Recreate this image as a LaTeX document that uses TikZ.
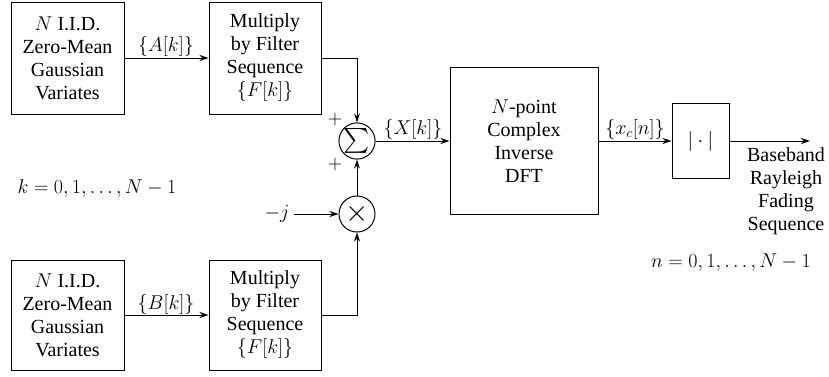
\RequirePackage{fix-cm}
\documentclass[tikz,border=0pt]{standalone}
\usepackage{exscale}
\usepackage[no-math]{fontspec}
\setmainfont{Liberation Serif}
\usetikzlibrary{arrows.meta}
\begin{document}
\begin{tikzpicture}[x=1pt,y=-1pt,
  every node/.style={font=\fontsize{20}{23}\selectfont},
  blk/.style={draw,line width=1pt,rectangle,inner sep=0pt,align=center},
  junc/.style={draw,line width=1pt,circle,minimum size=36pt,inner sep=0pt},
  lbl/.style={inner sep=0pt,align=center},
  arr/.style={line width=1pt,-{Stealth[length=9pt,width=6pt]}},
  ln/.style={line width=1pt}]
\useasboundingbox (0,0) rectangle (829,376);
% boxes
\node[blk,minimum width=113pt,minimum height=112pt] (b1) at (67.5,58) {$N$ I.I.D.\\Zero-Mean\\Gaussian\\Variates};
\node[blk,minimum width=112pt,minimum height=112pt] (b2) at (265,58) {Multiply\\by Filter\\Sequence\\$\{F[k]\}$};
\node[blk,minimum width=113pt,minimum height=110pt] (b3) at (67.5,315) {$N$ I.I.D.\\Zero-Mean\\Gaussian\\Variates};
\node[blk,minimum width=112pt,minimum height=110pt] (b4) at (265,315) {Multiply\\by Filter\\Sequence\\$\{F[k]\}$};
\node[junc] (sum) at (357,141) {\fontsize{25}{25}\selectfont$\textstyle\sum$};
\node[junc] (mult) at (357,214) {\fontsize{30}{30}\selectfont$\times$};
\node[blk,minimum width=148pt,minimum height=147pt] (dft) at (524,141) {$N$-point\\Complex\\Inverse\\DFT};
\node[blk,minimum width=57pt,minimum height=75pt] (abs) at (700.5,141) {$|\cdot|$};
\node[lbl] (mj) at (277,214) {$-j$};
\coordinate (out) at (810,141);
% labels
\node[lbl] (la) at (166,46) {$\{A[k]\}$};
\node[lbl] (lb) at (166,304) {$\{B[k]\}$};
\node[lbl] (lx) at (413,129) {$\{X[k]\}$};
\node[lbl] (lxc) at (635,129) {$\{x_c[n]\}$};
\node[lbl] (p1) at (335,119) {$+$};
\node[lbl] (p2) at (335,164) {$+$};
\node[lbl] (keq) at (97,188) {$k=0,1,\ldots,N-1$};
\node[lbl] (neq) at (731,263) {$n=0,1,\ldots,N-1$};
\node[lbl] (outtxt) at (786,191) {Baseband\\Rayleigh\\Fading\\Sequence};
% connectors
\draw[arr] (b1) -- (b2);
\draw[arr] (b3) -- (b4);
\draw[arr] (b2.east) -| (sum.north);
\draw[arr] (b4.east) -| (mult.south);
\draw[arr] (mult) -- (sum);
\draw[arr] (mj.east) ++(4pt,0) -- (mult.west);
\draw[arr] (sum) -- (dft);
\draw[arr] (dft) -- (abs);
\draw[arr] (abs.east) -- (out);
\end{tikzpicture}
\end{document}
